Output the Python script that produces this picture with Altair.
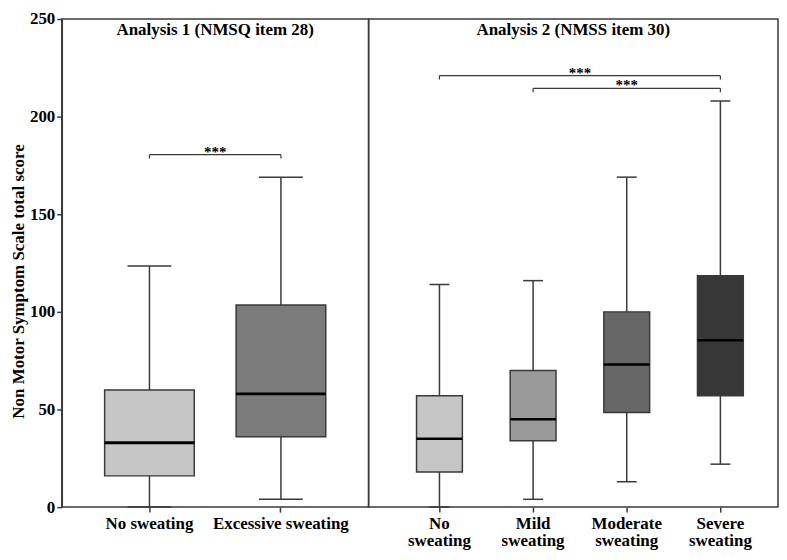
import altair as alt
import pandas as pd

# ---- data ----
cats1 = ["No sweating", "Excessive sweating"]
low1 = [0, 4]
q1_1 = [16, 36]
med1 = [33, 58]
q3_1 = [60, 103.5]
high1 = [123.5, 169]
colors1 = ["#c6c6c6", "#7b7b7b"]

cats2 = ["No sweating", "Mild sweating", "Moderate sweating", "Severe sweating"]
low2 = [0, 4, 13, 22]
q1_2 = [18, 34, 48.5, 57]
med2 = [35, 45, 73, 85.5]
q3_2 = [57, 70, 100, 118.5]
high2 = [114, 116, 169, 208]
colors2 = ["#c6c6c6", "#9a9a9a", "#676767", "#373737"]

br1_from = ["No sweating"]
br1_to = ["Excessive sweating"]
br1_y = [180.5]
br2_from = ["No sweating", "Mild sweating"]
br2_to = ["Severe sweating", "Severe sweating"]
br2_y = [221, 214.5]
sig_label = "***"

title1 = "Analysis 1 (NMSQ item 28)"
title2 = "Analysis 2 (NMSS item 30)"
y_title = "Non Motor Symptom Scale total score"

FONT = "Liberation Serif"
STROKE = "#3a3a3a"
H = 490


def panel(cats, low, q1, med, q3, high, colors, bfrom, bto, by, title,
          width, box, cap, medw, show_y, multiline, pad_out, align):
    df = pd.DataFrame({"cat": cats, "low": low, "q1": q1, "med": med,
                       "q3": q3, "high": high, "color": colors})
    axis_x = alt.Axis(title=None, labelAngle=0, domain=False, tickSize=5,
                      labelPadding=3, labelLineHeight=18,
                      labelExpr="split(datum.label, ' ')" if multiline else "datum.label")
    xscale = alt.Scale(domain=cats, paddingInner=0, paddingOuter=pad_out, align=align)
    x = alt.X("cat:N", sort=cats, scale=xscale, axis=axis_x)
    yscale = alt.Scale(domain=[0, 250], nice=False, zero=True)
    if show_y:
        yaxis = alt.Axis(title=y_title, values=[0, 50, 100, 150, 200, 250],
                         tickSize=5, labelPadding=2, titlePadding=2,
                         titleFontSize=17, titleY=263)
    else:
        yaxis = None

    base = alt.Chart(df)
    whisk = base.mark_rule(color=STROKE, strokeWidth=1.5).encode(
        x=x, y=alt.Y("low:Q", scale=yscale, axis=yaxis), y2="high:Q")
    box_m = base.mark_bar(size=box, stroke=STROKE, strokeWidth=1.5).encode(
        x=x, y=alt.Y("q1:Q", scale=yscale), y2="q3:Q",
        fill=alt.Fill("color:N", scale=None))
    med_m = base.mark_tick(size=box, thickness=medw, color="black", opacity=1).encode(
        x=x, y=alt.Y("med:Q", scale=yscale))
    cap_hi = base.mark_tick(size=cap, thickness=1.5, color=STROKE, opacity=1).encode(
        x=x, y=alt.Y("high:Q", scale=yscale))
    cap_lo = base.mark_tick(size=cap, thickness=1.5, color=STROKE, opacity=1).encode(
        x=x, y=alt.Y("low:Q", scale=yscale))

    bdf = pd.DataFrame({"a": bfrom, "b": bto, "y": by,
                        "y2": [v - 2 for v in by]})
    bb = alt.Chart(bdf)
    hline = bb.mark_rule(color=STROKE, strokeWidth=1.2).encode(
        x=alt.X("a:N", scale=xscale), x2="b:N",
        y=alt.Y("y:Q", scale=yscale))
    lend = bb.mark_rule(color=STROKE, strokeWidth=1.2).encode(
        x=alt.X("a:N", scale=xscale),
        y=alt.Y("y:Q", scale=yscale), y2="y2:Q")
    rend = bb.mark_rule(color=STROKE, strokeWidth=1.2).encode(
        x=alt.X("b:N", scale=xscale),
        y=alt.Y("y:Q", scale=yscale), y2="y2:Q")

    tdf = pd.DataFrame({"t": [title]})
    ttl = alt.Chart(tdf).mark_text(font=FONT, fontSize=17, fontWeight="bold",
                                   baseline="middle", color="black").encode(
        x=alt.value(width / 2), y=alt.value(11), text="t:N")

    layers = [whisk, box_m, med_m, cap_hi, cap_lo, hline, lend, rend, ttl]
    n = len(cats)
    step = width / (n + 2 * pad_out)
    start = align * 2 * pad_out * step
    for i in range(len(by)):
        sdf = pd.DataFrame({"y": [by[i]], "lab": [sig_label]})
        ia = cats.index(bfrom[i])
        ib = cats.index(bto[i])
        xm = start + step * ((ia + ib) / 2 + 0.5)
        s = alt.Chart(sdf).mark_text(font=FONT, fontSize=15, fontWeight="bold",
                                     baseline="alphabetic", dy=2, color="black").encode(
            x=alt.value(xm), y=alt.Y("y:Q", scale=yscale), text="lab:N")
        layers.append(s)

    return alt.layer(*layers).properties(width=width, height=H)


left = panel(cats1, low1, q1_1, med1, q3_1, high1, colors1, br1_from, br1_to, br1_y,
             title1, 308, 90, 44, 3, True, False, 0.167, 0.5)
right = panel(cats2, low2, q1_2, med2, q3_2, high2, colors2, br2_from, br2_to, br2_y,
              title2, 411, 46, 20, 2.5, False, True, 0.186, 0.69)

chart = alt.hconcat(left, right, spacing=0, bounds="flush").properties(
    padding={"left": 0, "top": 0, "right": 0, "bottom": 0}
).configure_view(stroke=STROKE, strokeWidth=1.5).configure_axis(
    labelFont=FONT, labelFontWeight="bold", labelFontSize=17, labelColor="black",
    titleFont=FONT, titleFontWeight="bold", titleColor="black",
    domainColor=STROKE, tickColor=STROKE, domainWidth=1.5, tickWidth=1.5, grid=False
).configure_concat(spacing=0)

chart.save("out.html", embed_options={"renderer": "svg", "actions": False})
